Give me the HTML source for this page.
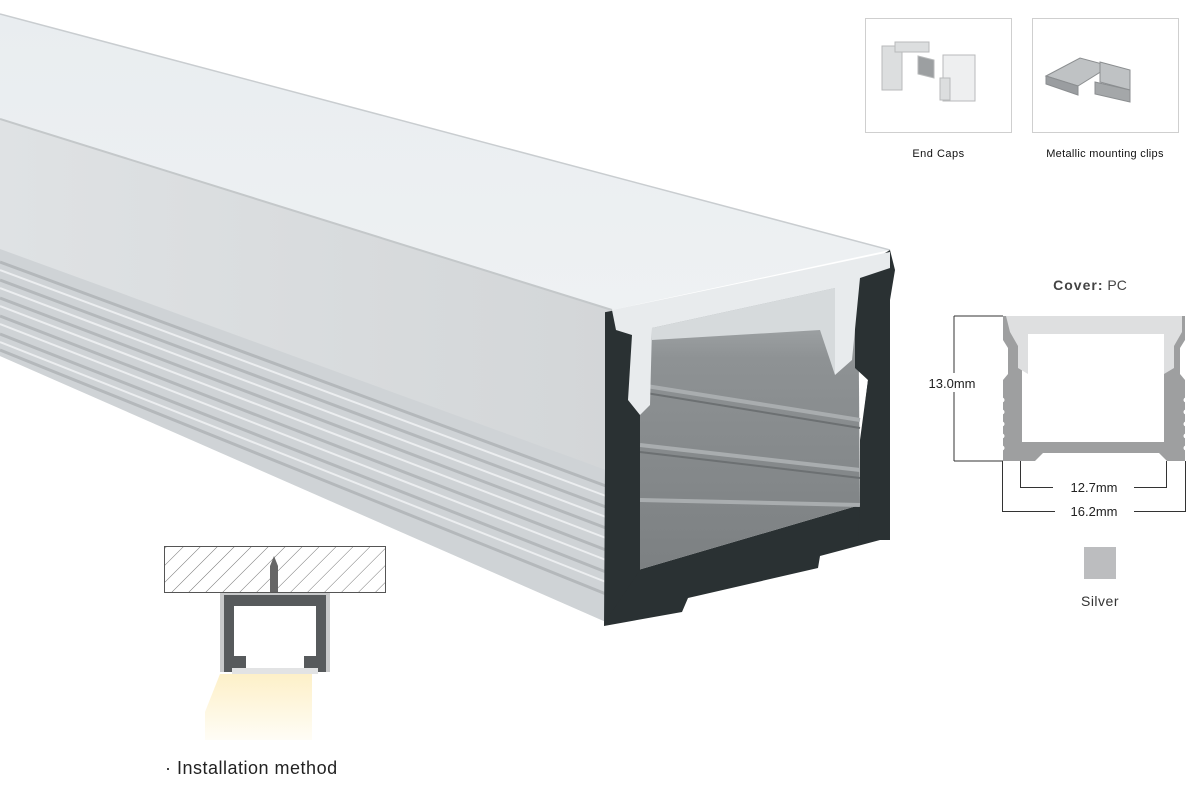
<!DOCTYPE html>
<html><head><meta charset="utf-8"><style>
html,body{margin:0;padding:0;background:#fff;width:1200px;height:800px;overflow:hidden}
svg{display:block}
text{font-family:"Liberation Sans",Arial,sans-serif}
</style></head><body>
<svg width="1200" height="800" viewBox="0 0 1200 800" xmlns="http://www.w3.org/2000/svg">
<defs>
<linearGradient id="top" x1="0" y1="0" x2="0" y2="1"><stop offset="0" stop-color="#e9edf0"/><stop offset="1" stop-color="#eef1f3"/></linearGradient>
<linearGradient id="side" x1="0" y1="0" x2="1" y2="0"><stop offset="0" stop-color="#dfe2e4"/><stop offset="1" stop-color="#d3d6d8"/></linearGradient>
<linearGradient id="cav" x1="0" y1="0" x2="0" y2="1"><stop offset="0" stop-color="#b8bcbe"/><stop offset="0.3" stop-color="#8e9294"/><stop offset="1" stop-color="#7c8082"/></linearGradient>
<linearGradient id="beam" x1="0" y1="0" x2="0" y2="1"><stop offset="0" stop-color="#fdf0c8"/><stop offset="1" stop-color="#fffdf6"/></linearGradient>
<pattern id="hatch" width="12" height="12" patternUnits="userSpaceOnUse" patternTransform="rotate(45)"><line x1="0" y1="0" x2="0" y2="12" stroke="#777" stroke-width="1"/></pattern>
</defs>

<polygon points="0,14 890,250 612,310 0,119" fill="url(#top)"/>
<line x1="0" y1="14" x2="890" y2="250" stroke="#c9cdd0" stroke-width="1.5"/>
<polygon points="0,119 612,310 606,622 0,356" fill="url(#side)"/>
<line x1="0" y1="119" x2="612" y2="310" stroke="#c4c8ca" stroke-width="2"/>
<polygon points="0,249 606,470 606,622 0,356" fill="#cfd3d6"/>
<g stroke="#b4b8bb" stroke-width="3" fill="none">
<line x1="0" y1="262" x2="606" y2="486"/>
<line x1="0" y1="280" x2="606" y2="507"/>
<line x1="0" y1="298" x2="606" y2="528"/>
<line x1="0" y1="316" x2="606" y2="550"/>
<line x1="0" y1="334" x2="606" y2="572"/>
<line x1="0" y1="350" x2="606" y2="594"/>
</g>
<g stroke="#eceef0" stroke-width="2" fill="none">
<line x1="0" y1="270" x2="606" y2="496"/>
<line x1="0" y1="288" x2="606" y2="517"/>
<line x1="0" y1="306" x2="606" y2="538"/>
<line x1="0" y1="324" x2="606" y2="560"/>
<line x1="0" y1="342" x2="606" y2="582"/>
</g>
<polygon points="606,312 616,310 640,330 648,400 640,430 638,570 860,505 860,440 868,380 858,365 860,268 890,250 895,270 890,300 888,540 880,540 820,556 818,568 688,598 682,612 604,626" fill="#2a3133"/>
<polygon points="640,330 858,268 860,505 638,570" fill="url(#cav)"/>
<g stroke="#a9adaf" stroke-width="4"><line x1="640" y1="385" x2="860" y2="420"/><line x1="640" y1="445" x2="860" y2="470"/><line x1="640" y1="500" x2="860" y2="505"/></g>
<g stroke="#6c7072" stroke-width="2"><line x1="640" y1="392" x2="860" y2="428"/><line x1="640" y1="452" x2="860" y2="478"/></g>
<polygon points="855,268 890,255 890,540 858,540 860,505 860,445 868,380 855,368" fill="#2a3133"/>
<polygon points="605,312 640,318 640,570 605,622" fill="#2a3133"/>
<polygon points="612,310 890,252 890,268 860,278 852,360 835,375 835,288 652,328 650,405 640,415 628,400 632,335 616,330" fill="#e8ebed"/>
<polygon points="652,328 835,288 835,375 820,330 652,340" fill="#d6dadc"/>

<rect x="865.5" y="18.5" width="146" height="114" fill="#fff" stroke="#cfcfcf"/>
<rect x="1032.5" y="18.5" width="146" height="114" fill="#fff" stroke="#cfcfcf"/>
<g fill="#dcdedf" stroke="#b8babb" stroke-width="1">
<rect x="882" y="46" width="20" height="44"/><rect x="895" y="42" width="34" height="10"/>
<polygon points="918,56 934,60 934,78 918,74" fill="#9c9fa1"/>
<rect x="943" y="55" width="32" height="46" fill="#eeeff0"/>
<rect x="940" y="78" width="10" height="22"/>
</g>
<g fill="#bfc2c4" stroke="#8b8e90" stroke-width="1">
<polygon points="1046,76 1080,58 1110,66 1078,86"/>
<polygon points="1046,76 1078,86 1078,95 1046,84" fill="#9a9da0"/>
<polygon points="1100,62 1130,70 1130,90 1100,82"/>
<polygon points="1095,82 1130,90 1130,102 1095,94" fill="#a4a7a9"/>
</g>
<text x="938.5" y="157" font-size="11" text-anchor="middle" fill="#111" letter-spacing="0.5">End Caps</text>
<text x="1105" y="157" font-size="11" text-anchor="middle" fill="#111" letter-spacing="0.3">Metallic mounting clips</text>

<text x="1090" y="290" font-size="14" text-anchor="middle" fill="#444"><tspan font-weight="bold" letter-spacing="1">Cover:</tspan> PC</text>
<path d="M1003,316 h182 v24 l-5,8 v26 l5,6 v81 h-18 l-8,-8 h-116 l-8,8 h-32 v-81 l5,-6 v-26 l-5,-8 z" fill="#9e9fa0"/>
<g fill="#fff"><circle cx="1002" cy="400" r="2.5"/><circle cx="1002" cy="412" r="2.5"/><circle cx="1002" cy="424" r="2.5"/><circle cx="1002" cy="436" r="2.5"/><circle cx="1002" cy="448" r="2.5"/>
<circle cx="1186" cy="400" r="2.5"/><circle cx="1186" cy="412" r="2.5"/><circle cx="1186" cy="424" r="2.5"/><circle cx="1186" cy="436" r="2.5"/><circle cx="1186" cy="448" r="2.5"/></g>
<rect x="1022" y="330" width="142" height="112" fill="#fff"/>
<path d="M1006,316 h176 v16 l-8,14 v22 l-10,6 v-40 h-136 v40 l-10,-6 v-22 l-8,-14 z" fill="#dedfe0"/>
<line x1="954" y1="316" x2="1003" y2="316" stroke="#333"/>
<line x1="954" y1="461" x2="1003" y2="461" stroke="#333"/>
<line x1="954" y1="316" x2="954" y2="373" stroke="#333"/>
<line x1="954" y1="392" x2="954" y2="461" stroke="#333"/>
<text x="952" y="388" font-size="13" text-anchor="middle" fill="#222">13.0mm</text>
<path d="M1020.5,461 V487.5 H1053 M1134,487.5 H1166.5 V461" fill="none" stroke="#333"/>
<text x="1094" y="492" font-size="13" text-anchor="middle" fill="#222">12.7mm</text>
<path d="M1002.5,461 V511.5 H1055 M1134,511.5 H1185.5 V461" fill="none" stroke="#333"/>
<text x="1094" y="516" font-size="13" text-anchor="middle" fill="#222">16.2mm</text>
<rect x="1084" y="547" width="32" height="32" fill="#bcbdbf"/>
<text x="1100" y="606" font-size="14" text-anchor="middle" fill="#333" letter-spacing="0.5">Silver</text>

<rect x="164.5" y="546.5" width="221" height="46" fill="url(#hatch)" stroke="#555"/>
<path d="M270,592 v-26 l4,-10 l4,10 v26 z" fill="#666"/>
<polygon points="220,593 330,593 330,672 220,672" fill="#c8c9ca"/>
<polygon points="224,595 326,595 326,672 224,672" fill="#575a5c"/>
<rect x="234" y="606" width="82" height="50" fill="#fff"/>
<rect x="246" y="656" width="58" height="12" fill="#fff"/>
<polygon points="232,668 318,668 318,674 232,674" fill="#e2e3e4"/>
<polygon points="205,712 220,674 312,674 312,740 205,740" fill="url(#beam)"/>
<text x="165" y="774" font-size="18" fill="#222" letter-spacing="0.5">· Installation method</text>
</svg>
</body></html>
